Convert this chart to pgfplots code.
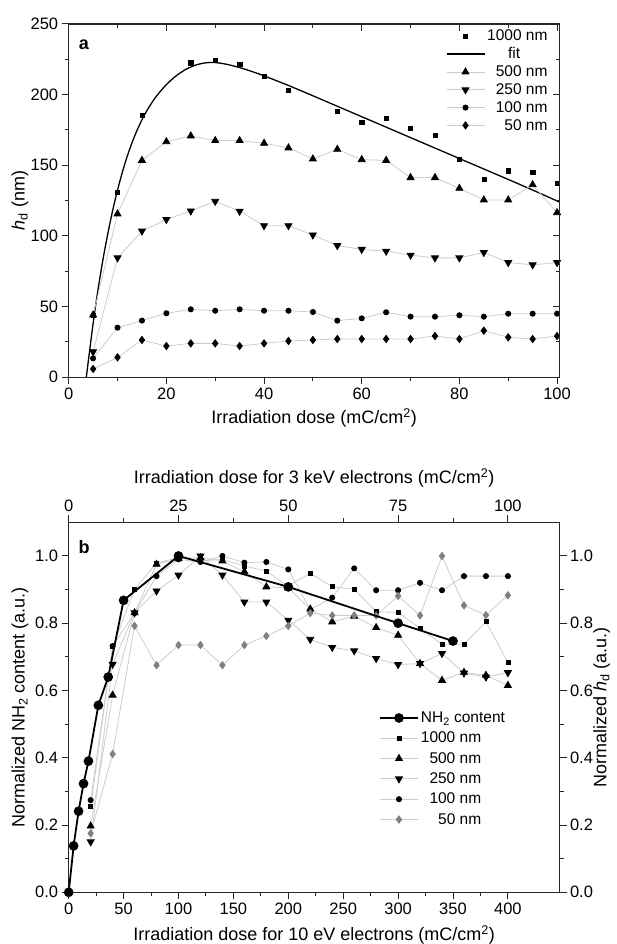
\documentclass[border=0pt]{standalone}
\usepackage{fontspec}
\setmainfont{Liberation Sans}
\usepackage{pgfplots}
\pgfplotsset{compat=1.18}
\pgfplotsset{
  every axis/.append style={
    scale only axis,
    /pgf/number format/assume math mode=true,
    tick label style={font=\fontsize{16.5}{19}\selectfont},
    label style={font=\fontsize{18}{21}\selectfont},
    axis line style={line width=1.2pt, black!85},
    major tick length=7pt, minor tick length=4pt,
    tick style={line width=1pt, black!85},
  },
  hd/.style={color=black!20, line width=0.8pt},
  limg/.style={legend image code/.code={\draw[mark repeat=2,mark phase=2,##1] plot coordinates {(0pt,0pt)(19pt,0pt)(38pt,0pt)};}},
}
\begin{document}
\begin{tikzpicture}
\path[use as bounding box] (0pt,0pt) rectangle (617pt,944pt);
% ---------------- panel a ----------------
\begin{axis}[
  at={(68.7pt,566.7pt)}, anchor=south west, width=490.8pt, height=353.3pt,
  xmin=0, xmax=100.5, ymin=0, ymax=250,
  xtick={0,20,...,100}, ytick={0,50,...,250},
  minor x tick num=1, minor y tick num=1,
  tick pos=left, tick align=outside,
  xlabel={Irradiation dose (mC/cm\textsuperscript{2})},
  ylabel={\textit{h}\textsubscript{d} (nm)},
  xlabel style={at={(axis description cs:0.5,-0.116)}, anchor=center},
  ylabel style={at={(axis description cs:-0.0995,0.5)}, anchor=center},
  legend style={at={(axis description cs:0.98,0.99)}, anchor=north east, draw=none, fill=none,
    font=\fontsize{15.5}{17}\selectfont, row sep=1.5pt, inner sep=0pt},
  legend cell align=left, limg,
]
\addplot[only marks, mark=square*, mark size=2.1pt, black] coordinates {
(5,44)(10,131)(15,185.5)(25,222.6)(30,224.3)(35,221.5)(40,213.2)(45,203.3)(55,188.2)(60,180.4)(65,183.5)(70,176.4)(75,171.2)(80,154.5)(85,140.3)(90,146.2)(95,145.1)(100,137.5)};
\addlegendentry{1000 nm}
\addplot[black, line width=1.3pt, no marks, smooth] coordinates {
(3.6,0)(5,38)(6,62)(7,83)(8,101.5)(9,118)(10,132.5)(11,145.3)(12,156.5)(13,166.3)(14,174.8)(15,182.2)(16,188.6)(17,194.2)(18,199.1)(20,207.1)(22,213.3)(24,217.9)(26,220.9)(28,222.5)(30,222.7)(32,221.7)(34,220.1)(36,218.1)(38,215.8)(40,213.3)(45,206.5)(50,199.2)(55,191.8)(60,184.4)(65,177)(70,169.6)(75,162.2)(80,154.8)(85,147.4)(90,140)(95,132.5)(100.5,124)};
\addlegendentry{\hspace{21pt}fit}
\addplot[hd, mark=triangle*, mark size=4pt, mark options={fill=black, draw=black}] coordinates {
(5,44.1)(10,115.6)(15,153.5)(20,166.7)(25,170.8)(30,167.5)(35,167.5)(40,165.6)(45,162.3)(50,154.5)(55,161.3)(60,154)(65,153.5)(70,141.3)(75,141.3)(80,133.7)(85,125.5)(90,125.5)(95,136.3)(100,116.5)};
\addlegendentry{\hphantom{0}500 nm}
\addplot[hd, mark=triangle*, mark size=4pt, mark options={fill=black, draw=black, rotate=180}] coordinates {
(5,18.1)(10,84.5)(15,103.5)(20,111.6)(25,117.7)(30,124.5)(35,117.5)(40,107.3)(45,107.3)(50,100.7)(55,93.2)(60,90.5)(65,89.2)(70,86.4)(75,84.5)(80,84.5)(85,88.3)(90,81.2)(95,79.6)(100,81.2)};
\addlegendentry{\hphantom{0}250 nm}
\addplot[hd, mark=*, mark size=2.6pt, mark options={fill=black, draw=black}] coordinates {
(5,13.4)(10,35.1)(15,40.1)(20,45.3)(25,48.1)(30,47.1)(35,48.1)(40,47.1)(45,47.1)(50,46.2)(55,40.1)(60,41.7)(65,46)(70,42.9)(75,42.9)(80,43.9)(85,42.9)(90,45)(95,45)(100,45)};
\addlegendentry{\hphantom{0}100 nm}
\addplot[hd, mark=diamond*, mark size=3.6pt, mark options={fill=black, draw=black}] coordinates {
(5,5.9)(10,14.1)(15,26.4)(20,22.1)(25,24)(30,24)(35,22.1)(40,24)(45,25.7)(50,26.4)(55,27.1)(60,27.1)(65,27.1)(70,27.1)(75,29.2)(80,27.1)(85,33)(90,28.3)(95,27.1)(100,29.2)};
\addlegendentry{\hphantom{00}50 nm}
\node[font=\bfseries\fontsize{18}{21}\selectfont] at (axis description cs:0.031,0.94) {a};
\end{axis}
\begin{axis}[
  at={(68.7pt,566.7pt)}, anchor=south west, width=490.8pt, height=353.3pt,
  xmin=0, xmax=100.5, ymin=0, ymax=250,
  xtick={0,20,...,100}, ytick={0,50,...,250},
  minor x tick num=1, minor y tick num=1,
  tick pos=right, tick align=inside,
  xticklabels={}, yticklabels={},
]
\end{axis}
% ---------------- panel b: top/right axis with h_d ----------------
\begin{axis}[
  at={(68.7pt,51.7pt)}, anchor=south west, width=490.8pt, height=370pt,
  xmin=0, xmax=111.75, ymin=0, ymax=1.1,
  axis x line*=top, axis y line*=right, axis line style={-},
  tick align=outside,
  xtick={0,25,50,75,100}, minor x tick num=1,
  ytick={0,0.2,0.4,0.6,0.8,1.0}, minor y tick num=1,
  yticklabel style={/pgf/number format/.cd, fixed, fixed zerofill, precision=1},
  xlabel={Irradiation dose for 3 keV electrons (mC/cm\textsuperscript{2})},
  ylabel={Normalized \textit{h}\textsubscript{d} (a.u.)},
  xlabel style={at={(axis description cs:0.5,1.119)}, anchor=center},
  ylabel style={at={(axis description cs:1.0858,0.5)}, anchor=center},
  legend style={at={(axis description cs:0.632,0.4935)}, anchor=north west, draw=none, fill=none,
    font=\fontsize{15.5}{17}\selectfont, row sep=4pt, inner sep=0pt},
  legend cell align=left, limg,
]
\addlegendimage{black, line width=1.8pt, mark=*, mark size=3.9pt}
\addlegendentry{NH\textsubscript{2} content}
\addplot[hd, mark=square*, mark size=2pt, mark options={fill=black, draw=black}] coordinates {
(5,0.254)(10,0.73)(15,0.901)(20,0.979)(25,0.995)(30,0.985)(35,0.99)(40,0.97)(45,0.955)(50,0.91)(55,0.949)(60,0.908)(65,0.901)(70,0.834)(75,0.832)(80,0.785)(85,0.737)(90,0.738)(95,0.804)(100,0.683)};
\addlegendentry{1000 nm}
\addplot[hd, mark=triangle*, mark size=4pt, mark options={fill=black, draw=black}] coordinates {
(5,0.197)(10,0.586)(15,0.831)(20,0.975)(25,0.992)(30,0.995)(35,0.985)(40,0.953)(45,0.908)(50,0.905)(55,0.842)(60,0.804)(65,0.821)(70,0.787)(75,0.764)(80,0.68)(85,0.63)(90,0.654)(95,0.645)(100,0.615)};
\addlegendentry{\hphantom{0}500 nm}
\addplot[hd, mark=triangle*, mark size=4pt, mark options={fill=black, draw=black, rotate=180}] coordinates {
(5,0.150)(10,0.678)(15,0.831)(20,0.896)(25,0.943)(30,1.0)(35,0.943)(40,0.863)(45,0.863)(50,0.809)(55,0.752)(60,0.728)(65,0.718)(70,0.695)(75,0.677)(80,0.68)(85,0.71)(90,0.652)(95,0.64)(100,0.653)};
\addlegendentry{\hphantom{0}250 nm}
\addplot[hd, mark=*, mark size=2.6pt, mark options={fill=black, draw=black}] coordinates {
(5,0.274)(10,0.732)(15,0.83)(20,0.94)(25,0.99)(30,0.982)(35,1.0)(40,0.98)(45,0.982)(50,0.96)(55,0.84)(60,0.876)(65,0.963)(70,0.898)(75,0.898)(80,0.92)(85,0.898)(90,0.94)(95,0.94)(100,0.94)};
\addlegendentry{\hphantom{0}100 nm}
\addplot[hd, mark=diamond*, mark size=3.6pt, mark options={fill=black!50, draw=black!50}] coordinates {
(5,0.175)(10,0.411)(15,0.792)(20,0.675)(25,0.735)(30,0.735)(35,0.675)(40,0.735)(45,0.762)(50,0.792)(55,0.83)(60,0.823)(65,0.823)(70,0.823)(75,0.881)(80,0.823)(85,1.0)(90,0.853)(95,0.824)(100,0.883)};
\addlegendentry{\hphantom{00}50 nm}
\end{axis}
% ---------------- panel b: bottom/left axis with NH2 ----------------
\begin{axis}[
  at={(68.7pt,51.7pt)}, anchor=south west, width=490.8pt, height=370pt,
  xmin=0, xmax=447, ymin=0, ymax=1.1,
  axis x line*=bottom, axis y line*=left, axis line style={-},
  tick align=outside,
  xtick={0,50,...,400}, minor x tick num=1,
  ytick={0,0.2,0.4,0.6,0.8,1.0}, minor y tick num=1,
  yticklabel style={/pgf/number format/.cd, fixed, fixed zerofill, precision=1},
  xlabel={Irradiation dose for 10 eV electrons (mC/cm\textsuperscript{2})},
  ylabel={Normalized NH\textsubscript{2} content (a.u.)},
  xlabel style={at={(axis description cs:0.5,-0.1154)}, anchor=center},
  ylabel style={at={(axis description cs:-0.0992,0.5)}, anchor=center},
]
\addplot[black, line width=1.8pt, mark=*, mark size=3.9pt] coordinates {
(0,0)(4.5,0.138)(9,0.241)(13.5,0.323)(18,0.39)(27,0.556)(36,0.64)(50,0.868)(100,1.0)(200,0.908)(300,0.80)(350,0.747)};
\node[font=\bfseries\fontsize{18}{21}\selectfont] at (axis description cs:0.0316,0.934) {b};
\end{axis}
\end{tikzpicture}
\end{document}
